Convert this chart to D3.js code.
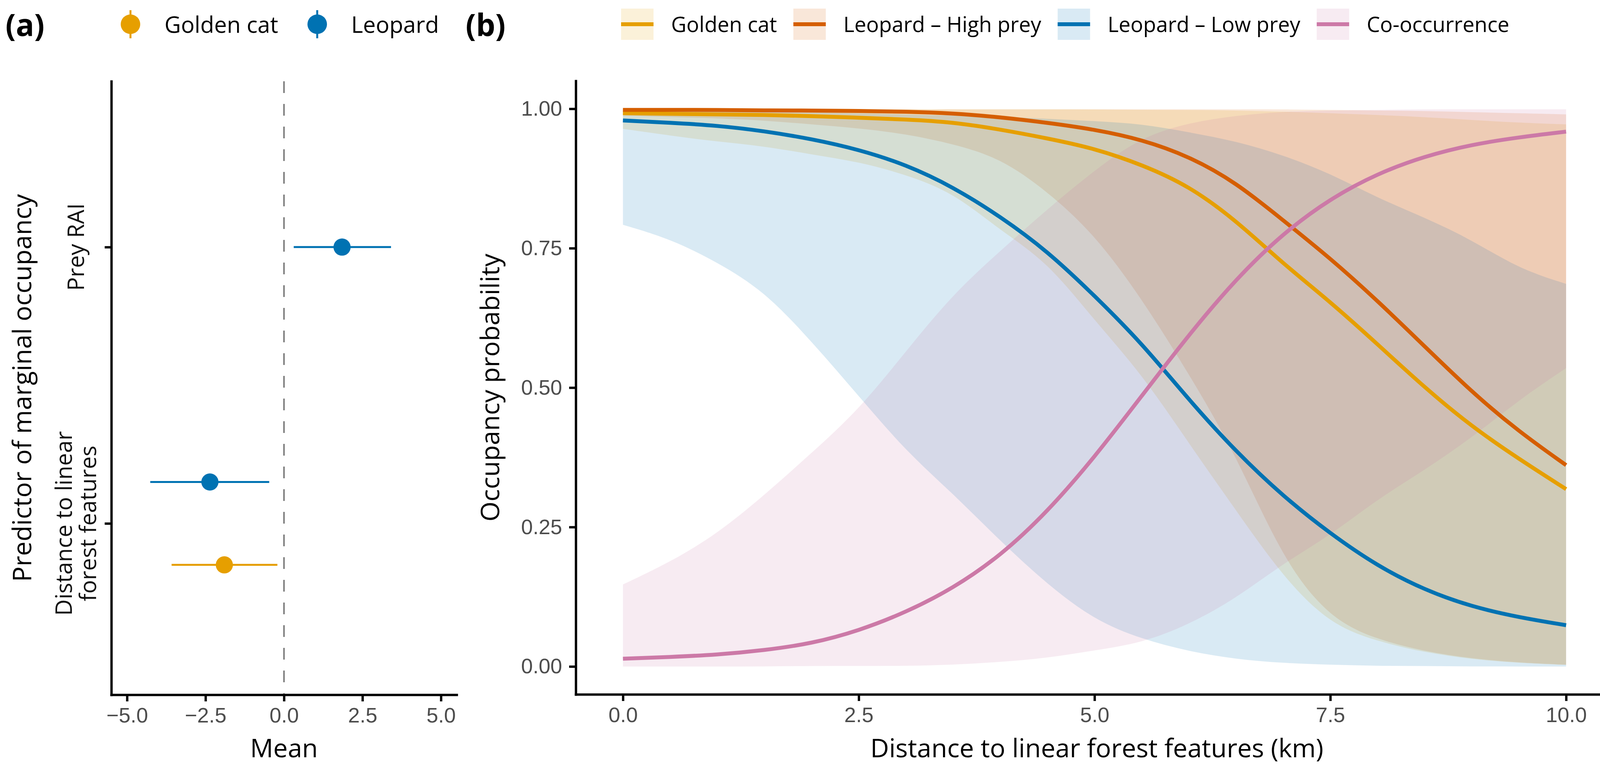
<!DOCTYPE html>
<html lang="en">
<head>
<meta charset="UTF-8">
<title>Golden cat and leopard occupancy</title>
<script src="https://d3js.org/d3.v7.min.js"></script>
<style>
  body { margin: 0; background: #fff; }
  svg { display: block; }
  .axis .tick text { font-family: "Liberation Sans", Arial, sans-serif; font-size: 54px; fill: #4d4d4d; }
  .axis .tick line, .axis .domain { stroke: #000; stroke-width: 6; }
  .axis .domain { stroke-linecap: square; }
  .axis-title { font-family: "Open Sans", sans-serif; font-size: 66px; fill: #000; }
  .cat-label { font-family: "Open Sans", sans-serif; font-size: 58px; fill: #111; }
  .legend-text { font-family: "Open Sans", sans-serif; font-size: 58px; fill: #000; }
  .legend-text.b { font-size: 54px; }
  .panel-tag { font-family: "Open Sans", sans-serif; font-size: 78px; font-weight: bold; fill: #000; }
</style>
</head>
<body>
<svg id="fig" width="4153" height="1968"></svg>
<script>
// ---------- panel (a): marginal occupancy coefficients ----------
const predictors = ["Prey RAI", "Distance to linear\nforest features"];
const species = ["Golden cat", "Leopard"];
const speciesColor = ["#E69F00", "#0072B2"];

const coefSpecies   = ["Leopard", "Leopard", "Golden cat"];
const coefPredictor = ["Prey RAI", "Distance to linear\nforest features", "Distance to linear\nforest features"];
const coefMean  = [1.85, -2.36, -1.90];
const coefLow   = [0.31, -4.26, -3.58];
const coefHigh  = [3.41, -0.47, -0.21];
const meanTicks = [-5, -2.5, 0, 2.5, 5];

// ---------- panel (b): occupancy vs distance ----------
const distKm = [0, 0.5, 1, 1.5, 2, 2.5, 3, 3.5, 4, 4.5, 5, 5.5, 6, 6.5, 7, 7.5, 8, 8.5, 9, 9.5, 10];

const goldenMean  = [0.992, 0.991, 0.990, 0.989, 0.987, 0.984, 0.981, 0.976, 0.963, 0.947, 0.929, 0.900, 0.862, 0.800, 0.722, 0.654, 0.578, 0.500, 0.430, 0.372, 0.318];
const goldenLow   = [0.964, 0.952, 0.941, 0.933, 0.918, 0.905, 0.882, 0.850, 0.782, 0.726, 0.620, 0.525, 0.400, 0.280, 0.160, 0.075, 0.045, 0.025, 0.013, 0.006, 0.003];
const goldenHigh  = [0.999, 0.999, 0.999, 0.999, 0.999, 0.999, 0.999, 0.999, 0.999, 0.999, 0.999, 0.998, 0.998, 0.997, 0.995, 0.992, 0.989, 0.985, 0.980, 0.975, 0.972];

const highPreyMean = [0.998, 0.998, 0.998, 0.997, 0.997, 0.996, 0.995, 0.992, 0.985, 0.975, 0.963, 0.945, 0.915, 0.868, 0.800, 0.732, 0.656, 0.574, 0.492, 0.421, 0.361];
const highPreyLow  = [0.988, 0.985, 0.983, 0.979, 0.972, 0.965, 0.955, 0.937, 0.912, 0.852, 0.775, 0.660, 0.525, 0.380, 0.190, 0.085, 0.048, 0.027, 0.014, 0.007, 0.003];
const highPreyHigh = [0.999, 0.999, 0.999, 0.999, 0.999, 0.999, 0.999, 0.999, 0.999, 0.999, 0.999, 0.999, 0.999, 0.999, 0.999, 0.998, 0.997, 0.996, 0.994, 0.992, 0.990];

const lowPreyMean = [0.979, 0.975, 0.970, 0.960, 0.946, 0.927, 0.900, 0.860, 0.807, 0.745, 0.665, 0.580, 0.478, 0.385, 0.305, 0.238, 0.180, 0.137, 0.107, 0.088, 0.074];
const lowPreyLow  = [0.792, 0.767, 0.725, 0.673, 0.583, 0.485, 0.386, 0.310, 0.225, 0.147, 0.083, 0.049, 0.027, 0.013, 0.006, 0.003, 0.001, 0.001, 0.000, 0.000, 0.000];
const lowPreyHigh = [0.997, 0.997, 0.996, 0.995, 0.994, 0.992, 0.990, 0.988, 0.986, 0.982, 0.978, 0.973, 0.958, 0.942, 0.917, 0.884, 0.840, 0.805, 0.765, 0.713, 0.686];

const coocMean = [0.014, 0.017, 0.021, 0.029, 0.041, 0.064, 0.097, 0.140, 0.198, 0.277, 0.375, 0.485, 0.595, 0.695, 0.777, 0.839, 0.884, 0.915, 0.936, 0.949, 0.959];
const coocLow  = [0.000, 0.000, 0.000, 0.000, 0.001, 0.001, 0.001, 0.003, 0.008, 0.015, 0.029, 0.042, 0.075, 0.122, 0.185, 0.235, 0.300, 0.352, 0.410, 0.478, 0.535];
const coocHigh = [0.147, 0.187, 0.238, 0.307, 0.383, 0.460, 0.565, 0.668, 0.745, 0.820, 0.890, 0.950, 0.975, 0.988, 0.995, 0.997, 0.998, 0.999, 0.999, 0.999, 0.999];

const curveNames  = ["Golden cat", "Leopard \u2013 High prey", "Leopard \u2013 Low prey", "Co-occurrence"];
const curveColors = ["#E69F00", "#D55E00", "#0072B2", "#CC79A7"];
const probTicks = [0, 0.25, 0.5, 0.75, 1];
const distTicks = [0, 2.5, 5, 7.5, 10];

const svg = d3.select("#fig");
svg.append("rect").attr("width", 4153).attr("height", 1968).attr("fill", "#fff");

// ================= panel (a) =================
const xA = d3.scaleLinear().domain([-5.5, 5.5]).range([285, 1169]);
const yA = d3.scaleLinear().domain([2.6, 0.38]).range([208, 1778]);
const predPos = p => predictors.length - predictors.indexOf(p); // Prey RAI on top
const dodge = 0.3;

const gA = svg.append("g");

// zero line
gA.append("line")
    .attr("x1", xA(0)).attr("x2", xA(0))
    .attr("y1", yA.range()[0]).attr("y2", yA.range()[1])
    .attr("stroke", "#808080").attr("stroke-width", 4)
    .attr("stroke-dasharray", "30,28");

const coefs = coefMean.map((m, i) => ({
    species: coefSpecies[i], predictor: coefPredictor[i],
    mean: m, low: coefLow[i], high: coefHigh[i]
}));
coefs.forEach(d => {
    const group = coefs.filter(e => e.predictor === d.predictor);
    let off = 0;
    if (group.length > 1) {
        // Leopard drawn above Golden cat
        off = d.species === "Leopard" ? dodge / 2 : -dodge / 2;
    }
    d.pos = predPos(d.predictor) + off;
    d.color = speciesColor[species.indexOf(d.species)];
});

gA.selectAll(".ci").data(coefs).enter().append("line")
    .attr("x1", d => xA(d.low)).attr("x2", d => xA(d.high))
    .attr("y1", d => yA(d.pos)).attr("y2", d => yA(d.pos))
    .attr("stroke", d => d.color).attr("stroke-width", 5);
gA.selectAll(".pt").data(coefs).enter().append("circle")
    .attr("cx", d => xA(d.mean)).attr("cy", d => yA(d.pos)).attr("r", 22)
    .attr("fill", d => d.color);

// axes (a)
const axAx = gA.append("g").attr("class", "axis")
    .attr("transform", `translate(0,${yA.range()[1]})`)
    .call(d3.axisBottom(xA).tickValues(meanTicks).tickSize(17).tickSizeOuter(0).tickPadding(16)
        .tickFormat(d => (d < 0 ? "\u2212" : "") + Math.abs(d).toFixed(1)));
axAx.attr("font-size", null).attr("font-family", null);

gA.append("g").attr("class", "axis")
    .attr("transform", `translate(${xA.range()[0]},0)`)
    .call(d3.axisLeft(yA).tickValues(predictors.map(predPos)).tickSize(17).tickSizeOuter(0).tickFormat(""));

predictors.forEach(p => {
    const lines = p.split("\n");
    lines.forEach((ln, i) => {
        const bx = 215 + (i - (lines.length - 1) / 2) * 62;
        gA.append("text").attr("class", "cat-label")
            .attr("transform", `translate(${bx},${yA(predPos(p))}) rotate(-90)`)
            .attr("text-anchor", "middle")
            .text(ln);
    });
});

gA.append("text").attr("class", "axis-title")
    .attr("x", (xA.range()[0] + xA.range()[1]) / 2).attr("y", 1938)
    .attr("text-anchor", "middle").text("Mean");
gA.append("text").attr("class", "axis-title")
    .attr("transform", `translate(80,${(yA.range()[0] + yA.range()[1]) / 2}) rotate(-90)`)
    .attr("text-anchor", "middle").text("Predictor of marginal occupancy");

// legend (a)
svg.append("text").attr("class", "panel-tag").attr("x", 14).attr("y", 92).text("(a)");
let lx = 334;
species.forEach((s, i) => {
    svg.append("line").attr("x1", lx).attr("x2", lx).attr("y1", 26).attr("y2", 98)
        .attr("stroke", speciesColor[i]).attr("stroke-width", 5);
    svg.append("circle").attr("cx", lx).attr("cy", 62).attr("r", 25).attr("fill", speciesColor[i]);
    const t = svg.append("text").attr("class", "legend-text").attr("x", lx + 87).attr("y", 84).text(s);
    lx = lx + 87 + t.node().getComputedTextLength() + 100;
});

// ================= panel (b) =================
const xB = d3.scaleLinear().domain([-0.5, 10.55]).range([1474, 4142]);
const yB = d3.scaleLinear().domain([-0.05, 1.05]).range([1777, 207]);

const series = [
    { mean: goldenMean, low: goldenLow, high: goldenHigh },
    { mean: highPreyMean, low: highPreyLow, high: highPreyHigh },
    { mean: lowPreyMean, low: lowPreyLow, high: lowPreyHigh },
    { mean: coocMean, low: coocLow, high: coocHigh }
].map((s, k) => ({
    name: curveNames[k], color: curveColors[k],
    values: distKm.map((x, i) => ({ x, m: s.mean[i], lo: s.low[i], hi: s.high[i] }))
}));

const gB = svg.append("g");
const area = d3.area().curve(d3.curveBasis)
    .x(d => xB(d.x)).y0(d => yB(d.lo)).y1(d => yB(d.hi));
const line = d3.line().curve(d3.curveBasis)
    .x(d => xB(d.x)).y(d => yB(d.m));

gB.selectAll(".ribbon").data(series).enter().append("path")
    .attr("d", d => area(d.values))
    .attr("fill", d => d.color).attr("fill-opacity", 0.15).attr("stroke", "none");
gB.selectAll(".curve").data(series).enter().append("path")
    .attr("d", d => line(d.values))
    .attr("fill", "none").attr("stroke", d => d.color).attr("stroke-width", 10);

const axBx = gB.append("g").attr("class", "axis")
    .attr("transform", `translate(0,${yB.range()[0]})`)
    .call(d3.axisBottom(xB).tickValues(distTicks).tickSize(17).tickSizeOuter(0).tickPadding(16)
        .tickFormat(d3.format(".1f")));
axBx.attr("font-size", null).attr("font-family", null);
const axBy = gB.append("g").attr("class", "axis")
    .attr("transform", `translate(${xB.range()[0]},0)`)
    .call(d3.axisLeft(yB).tickValues(probTicks).tickSize(17).tickSizeOuter(0).tickPadding(18)
        .tickFormat(d3.format(".2f")));
axBy.attr("font-size", null).attr("font-family", null);

gB.append("text").attr("class", "axis-title")
    .attr("x", (xB.range()[0] + xB.range()[1]) / 2).attr("y", 1938)
    .attr("text-anchor", "middle").text("Distance to linear forest features (km)");
gB.append("text").attr("class", "axis-title")
    .attr("transform", `translate(1278,${(yB.range()[0] + yB.range()[1]) / 2}) rotate(-90)`)
    .attr("text-anchor", "middle").text("Occupancy probability");

// legend (b)
svg.append("text").attr("class", "panel-tag").attr("x", 1192).attr("y", 92).text("(b)");
let bx = 1590;
series.forEach(s => {
    svg.append("rect").attr("x", bx).attr("y", 22).attr("width", 83).attr("height", 80)
        .attr("fill", s.color).attr("fill-opacity", 0.15);
    svg.append("line").attr("x1", bx).attr("x2", bx + 83).attr("y1", 62).attr("y2", 62)
        .attr("stroke", s.color).attr("stroke-width", 10);
    const t = svg.append("text").attr("class", "legend-text b").attr("x", bx + 128).attr("y", 82).text(s.name);
    bx = bx + 128 + t.node().getComputedTextLength() + 42;
});
</script>
</body>
</html>
